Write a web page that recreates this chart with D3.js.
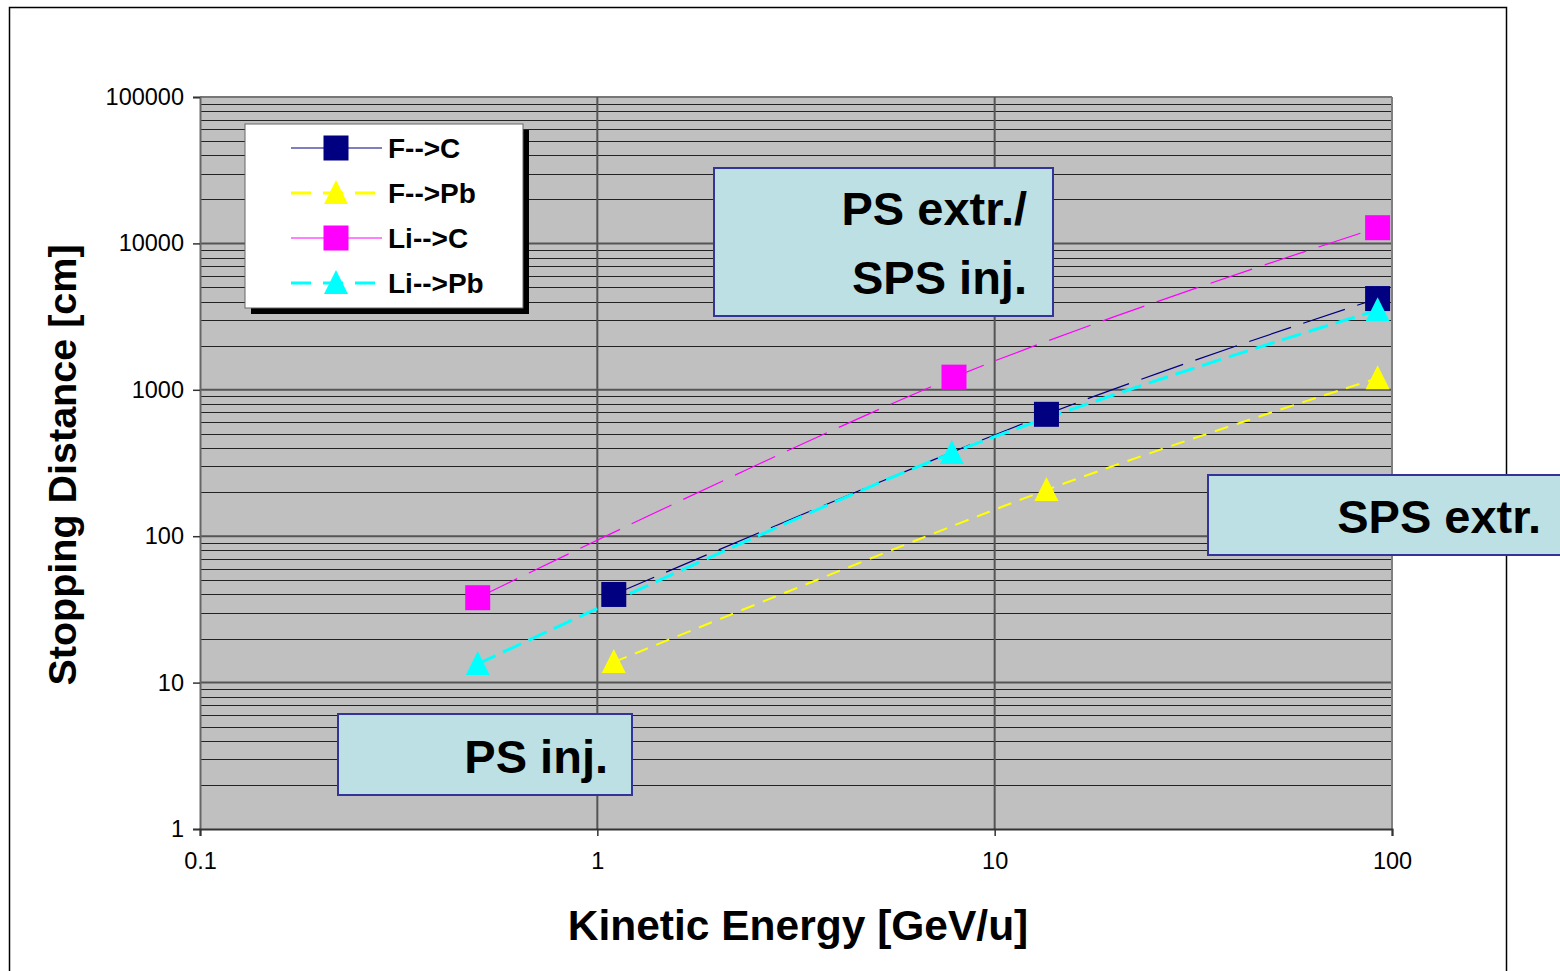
<!DOCTYPE html>
<html>
<head>
<meta charset="utf-8">
<script src="https://d3js.org/d3.v7.min.js"></script>
<style>
    body { margin: 0; background: #fff; }
    text { font-family: "Liberation Sans", Arial, sans-serif; }
</style>
</head>
<body>
<svg width="1560" height="971"></svg>
<script>
// values
var seriesNames = ["F-->C", "F-->Pb", "Li-->C", "Li-->Pb"];
var fcEnergy = [1.1, 13.5, 92];
var fcDist = [40, 680, 4200];
var fpbEnergy = [1.1, 13.5, 92];
var fpbDist = [13.8, 207, 1200];
var licEnergy = [0.5, 7.9, 92];
var licDist = [38, 1220, 12800];
var lipbEnergy = [0.5, 7.8, 92];
var lipbDist = [13.4, 370, 3500];
var xTicks = [0.1, 1, 10, 100];
var yTicks = [1, 10, 100, 1000, 10000, 100000];
var notes = [
    { lines: ["PS extr./", "SPS inj."], box: [714, 168, 1053, 316] },
    { lines: ["SPS extr."], box: [1208, 475, 1570, 555] },
    { lines: ["PS inj."], box: [338, 714, 632, 795] }
];

var series = [
    { name: seriesNames[0], x: fcEnergy, y: fcDist, color: "#000080", marker: "square", width: 1.2, dash: "44,13", legendDash: null },
    { name: seriesNames[1], x: fpbEnergy, y: fpbDist, color: "#ffff00", marker: "triangle", width: 2, dash: "14,9", legendDash: "20,12" },
    { name: seriesNames[2], x: licEnergy, y: licDist, color: "#ff00ff", marker: "square", width: 1.2, dash: "44,13", legendDash: null },
    { name: seriesNames[3], x: lipbEnergy, y: lipbDist, color: "#00ffff", marker: "triangle", width: 3, dash: "20,8", legendDash: "20,12" }
];

var svg = d3.select("svg");
var pLeft = 200, pRight = 1392, pTop = 97, pBottom = 829;

var x = d3.scaleLog().domain([0.1, 100]).range([pLeft, pRight]);
var y = d3.scaleLog().domain([1, 100000]).range([pBottom, pTop]);

// outer frame
svg.append("rect").attr("x", 9.5).attr("y", 7.5).attr("width", 1497).attr("height", 980)
    .attr("fill", "none").attr("stroke", "#000").attr("stroke-width", 1.5);

// plot background
svg.append("rect").attr("x", pLeft).attr("y", pTop).attr("width", pRight - pLeft).attr("height", pBottom - pTop)
    .attr("fill", "#c0c0c0");

// horizontal grid, major and minor
var minor = [];
for (var p = 0; p < 5; p++) {
    for (var k = 2; k <= 9; k++) minor.push(k * Math.pow(10, p));
}
svg.append("g").selectAll("line").data(minor).enter().append("line")
    .attr("x1", pLeft).attr("x2", pRight)
    .attr("y1", d => Math.round(y(d)) + 0.5).attr("y2", d => Math.round(y(d)) + 0.5)
    .attr("stroke", "#222").attr("stroke-width", 1);
svg.append("g").selectAll("line").data(yTicks.slice(1, -1)).enter().append("line")
    .attr("x1", pLeft).attr("x2", pRight)
    .attr("y1", d => y(d)).attr("y2", d => y(d))
    .attr("stroke", "#555").attr("stroke-width", 2);
svg.append("line").attr("x1", pLeft).attr("x2", pRight).attr("y1", pTop).attr("y2", pTop)
    .attr("stroke", "#777").attr("stroke-width", 2);

// vertical grid
svg.append("g").selectAll("line").data(xTicks.slice(1, -1)).enter().append("line")
    .attr("x1", d => x(d)).attr("x2", d => x(d))
    .attr("y1", pTop).attr("y2", pBottom)
    .attr("stroke", "#555").attr("stroke-width", 2);
svg.append("line").attr("x1", pRight).attr("x2", pRight).attr("y1", pTop).attr("y2", pBottom)
    .attr("stroke", "#808080").attr("stroke-width", 2);

// axes
var yAxis = d3.axisLeft(y).tickValues(yTicks).tickFormat(d3.format("d")).tickSize(7).tickPadding(9);
var gy = svg.append("g").attr("transform", "translate(" + pLeft + ",0)").call(yAxis);
var xAxis = d3.axisBottom(x).tickValues(xTicks).tickFormat(d => d).tickSize(7).tickPadding(16);
var gx = svg.append("g").attr("transform", "translate(0," + pBottom + ")").call(xAxis);
[gx, gy].forEach(function (g) {
    g.attr("font-size", null).attr("font-family", null);
    g.select(".domain").attr("stroke", "#333").attr("stroke-width", 2);
    g.selectAll(".tick line").attr("stroke", "#333").attr("stroke-width", 1.5);
    g.selectAll(".tick text").attr("fill", "#000")
        .style("font-size", "23.5px")
        .style("font-family", "'Liberation Sans', Arial, sans-serif");
});
gy.select(".domain").attr("stroke", "#666");

// axis titles
svg.append("text").attr("x", 798).attr("y", 940).attr("text-anchor", "middle")
    .style("font-size", "42.5px").attr("font-weight", "bold").text("Kinetic Energy [GeV/u]");
svg.append("text").attr("transform", "translate(76,465) rotate(-90)").attr("text-anchor", "middle")
    .style("font-size", "39.5px").attr("font-weight", "bold").text("Stopping Distance [cm]");

// lines
var line = d3.line().x(d => x(d[0])).y(d => y(d[1])).curve(d3.curveCardinal.tension(0));
series.forEach(function (s) {
    var pts = s.x.map((v, i) => [v, s.y[i]]);
    svg.append("path").datum(pts).attr("d", line)
        .attr("fill", "none").attr("stroke", s.color)
        .attr("stroke-width", s.width).attr("stroke-dasharray", s.dash);
});

function drawMarker(g, type, cx, cy, color) {
    if (type === "square") {
        g.append("rect").attr("x", cx - 12.5).attr("y", cy - 12.5).attr("width", 25).attr("height", 25)
            .attr("fill", color);
    } else {
        g.append("path").attr("d", "M" + cx + "," + (cy - 13) + "L" + (cx + 12) + "," + (cy + 11) + "L" + (cx - 12) + "," + (cy + 11) + "Z")
            .attr("fill", color);
    }
}

// markers
var mg = svg.append("g");
series.forEach(function (s) {
    s.x.forEach(function (v, i) {
        drawMarker(mg, s.marker, x(v), y(s.y[i]), s.color);
    });
});

// legend
var lg = svg.append("g");
lg.append("rect").attr("x", 251).attr("y", 130).attr("width", 278).attr("height", 184).attr("fill", "#000");
lg.append("rect").attr("x", 245).attr("y", 124).attr("width", 278).attr("height", 184)
    .attr("fill", "#fff").attr("stroke", "#666").attr("stroke-width", 1);
series.forEach(function (s, i) {
    var ly = 148 + i * 45;
    lg.append("line").attr("x1", 291).attr("x2", 382).attr("y1", ly).attr("y2", ly)
        .attr("stroke", s.color).attr("stroke-width", s.marker === "square" ? 1.2 : 3)
        .attr("stroke-dasharray", s.legendDash);
    drawMarker(lg, s.marker, 336, ly, s.color);
    lg.append("text").attr("x", 388).attr("y", ly + 10).style("font-size", "28px").attr("font-weight", "bold")
        .text(s.name);
});

// text boxes
notes.forEach(function (n) {
    var b = n.box;
    svg.append("rect").attr("x", b[0]).attr("y", b[1]).attr("width", b[2] - b[0]).attr("height", b[3] - b[1])
        .attr("fill", "#bce0e3").attr("stroke", "#333399").attr("stroke-width", 2);
});
var noteText = [
    { lines: notes[0].lines, xEnd: 1027, base: [225, 294] },
    { lines: notes[1].lines, xEnd: 1541, base: [533] },
    { lines: notes[2].lines, xEnd: 608, base: [773] }
];
noteText.forEach(function (n) {
    n.lines.forEach(function (t, i) {
        svg.append("text").attr("x", n.xEnd).attr("y", n.base[i]).attr("text-anchor", "end")
            .style("font-size", "47px").attr("font-weight", "bold").text(t);
    });
});
</script>
</body>
</html>
